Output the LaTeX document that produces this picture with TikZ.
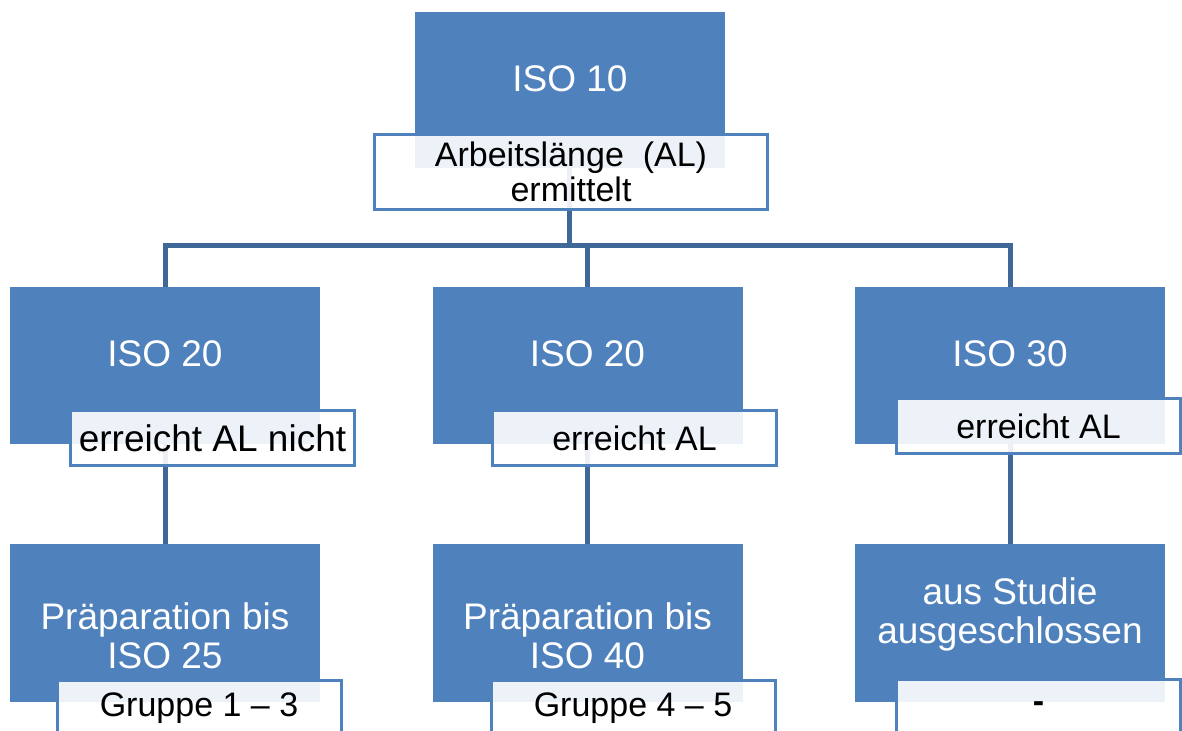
\documentclass[tikz,border=0pt]{standalone}
\usepackage{fontspec}
\setmainfont{Liberation Sans}
\usetikzlibrary{backgrounds}
\definecolor{boxblue}{HTML}{4F81BD}
\definecolor{lineblue}{HTML}{3F6899}

\begin{document}
\begin{tikzpicture}[x=0.5pt,y=-0.5pt,
    isobox/.style={fill=boxblue, draw=none, inner sep=0pt, minimum width=155pt, minimum height=78.5pt},
    albox/.style={fill=white, fill opacity=0.9, text opacity=1, draw=boxblue, line width=1.5pt, inner sep=0pt,
        minimum width=142pt, minimum height=27.5pt, align=center, font=\fontsize{17}{17.5}\selectfont},
    isotext/.style={text=white, inner sep=0pt, align=center, font=\fontsize{18.5}{19.5}\selectfont},
    link/.style={draw=lineblue, line width=2.5pt}]
    \useasboundingbox (0,0) rectangle (1182,731);
    \clip (0,0) rectangle (1182,731);
    \coordinate (J) at (0,246);

    % top
    \node[isobox, minimum height=78pt] (A0) at (569.5,90) {};
    \node[albox, minimum width=196.5pt, minimum height=37.5pt] (a0) at (571,172) {Arbeitslänge\ \ (AL)\\ermittelt};
    \node[isotext, anchor=base] (t0) at (570,92) {ISO 10};

    % second row
    \node[isobox] (B1) at (165,365.5) {};
    \node[isobox] (B2) at (587.5,365.5) {};
    \node[isobox] (B3) at (1010,365.5) {};
    \node[albox, font=\fontsize{18.5}{19.5}\selectfont] (b1) at (212.5,438) {erreicht AL nicht};
    \node[albox] (b2) at (634.5,438) {erreicht AL};
    \node[albox] (b3) at (1038.5,426.5) {erreicht AL};
    \node[isotext, anchor=base] (tB1) at (165,367) {ISO 20};
    \node[isotext, anchor=base] (tB2) at (587.5,367) {ISO 20};
    \node[isotext, anchor=base] (tB3) at (1010,367) {ISO 30};

    % third row
    \node[isobox, minimum height=79pt] (C1) at (165,623) {};
    \node[isobox, minimum height=79pt] (C2) at (587.5,623) {};
    \node[isobox, minimum height=79pt] (C3) at (1010,623) {};
    \node[albox] (c1) at (199,708) {Gruppe 1 -- 3};
    \node[albox] (c2) at (633,708) {Gruppe 4 -- 5};
    \node[albox] (c3) at (1038.5,707) {\raisebox{-1pt}{\bfseries -}};
    \node[isotext] (tC1) at (165,635.5) {Präparation bis\\ISO 25};
    \node[isotext] (tC2) at (587.5,635.5) {Präparation bis\\ISO 40};
    \node[isotext] (tC3) at (1010,614) {aus Studie\\ausgeschlossen};

    \begin{pgfonlayer}{background}
    \draw[link] (A0.center) -- (A0.center |- J);
    \draw[link] (B1.center) -- (B1.center |- J) -- (B3.center |- J) -- (B3.center);
    \draw[link] (B2.center |- J) -- (B2.center);
    \foreach \n in {1,2,3}
        \draw[link] (B\n.center) -- (C\n.center);
    \end{pgfonlayer}
\end{tikzpicture}
\end{document}
